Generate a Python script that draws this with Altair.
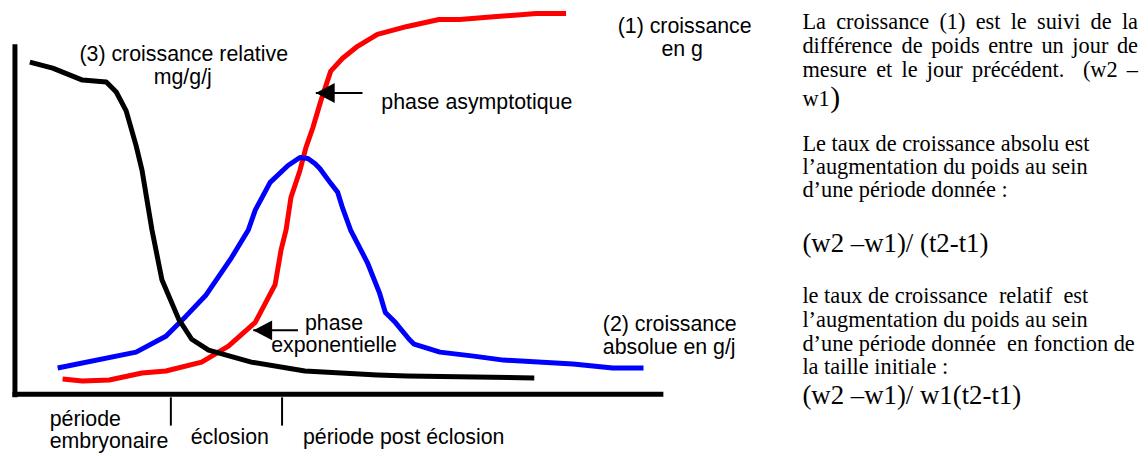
import altair as alt
import pandas as pd

# ---- coordinate system: t = time along the x axis, v = value (origin at axes corner)
# (1) croissance en g  (red)
red_t = [48, 68, 95, 128, 152, 188, 215, 242, 262, 268, 273, 278, 287, 293, 300, 308, 318, 330, 345, 365, 395, 427, 448, 485, 525, 555]
red_v = [16, 14, 15, 22, 24, 33, 49, 73, 111, 146, 166, 199, 226, 249, 269, 296, 326, 339, 351, 363, 371, 378, 378, 381, 384, 384]
# (2) croissance absolue en g/j  (blue)
blue_t = [43, 122, 152, 172, 192, 218, 235, 242, 257, 275, 287, 295, 302, 307, 318, 325, 330, 338, 355, 367, 373, 383, 397, 402, 428, 462, 492, 562, 602, 633]
blue_v = [27, 43, 59, 79, 100, 138, 166, 186, 214, 231, 239, 238, 233, 228, 213, 204, 188, 166, 133, 103, 83, 73, 56, 51, 43, 39, 35, 31, 27, 27]
# (3) croissance relative mg/g/j  (black)
black_t = [15, 38, 68, 92, 102, 112, 122, 128, 133, 138, 148, 165, 178, 195, 238, 292, 365, 395, 523]
black_v = [335, 329, 317, 315, 305, 286, 251, 226, 196, 166, 116, 76, 56, 45, 33, 24, 20, 19, 17]

series_names = ["(1)", "(2)", "(3)"]
series_colors = ["#ff0000", "#0000ff", "#000000"]

# axes of the sketch
axis_t = [0, -2.5]
axis_v = [-2.5, 0.5]
axis_t2 = [0, 653]
axis_v2 = [353, 0.5]

# period separators below the time axis
sep_t = [157, 269]
sep_v_top = -2.5
sep_v_bottom = -31

# arrows (tip position, tail end)
arrow_tip_t = [303, 240]
arrow_tip_v = [304, 65]
arrow_tail_t = [350, 285]

# sans-serif labels in the drawing
lab_text = ["(1) croissance", "en g", "phase asymptotique", "phase", "exponentielle",
            "(2) croissance", "absolue en g/j", "période", "embryonaire", "éclosion",
            "période post éclosion"]
lab_t = [607, 651, 369, 292, 258, 592, 592, 35, 35, 177, 290]
lab_v = [364, 341, 288, 65, 43, 64, 41, -31, -54, -49, -49]
title3_text = ["(3) croissance relative", "mg/g/j"]
title3_t = [170, 169]
title3_v = [336, 313]

# right-hand explanatory text (Times-like)
just_lines = ["La croissance (1) est le suivi de la",
              "différence de poids entre un jour de",
              "mesure et le jour précédent.  (w2 –"]
just_v = [368, 344, 320]
plain_lines = ["w1", "Le taux de croissance absolu est", "l’augmentation du poids au sein",
               "d’une période donnée :", "le taux de croissance  relatif  est",
               "l’augmentation du poids au sein", "d’une période donnée  en fonction de",
               "la taille initiale :"]
plain_v = [291, 246, 222, 199, 92, 68, 44, 21]
big_lines = ["(w2 –w1)/ (t2-t1)", "(w2 –w1)/ w1(t2-t1)"]
big_v = [144, -9]
paren_text = [")"]
paren_t = [821]
paren_v = [290]

TEXT_LEFT = 793
TEXT_RIGHT = 1131
SERIF = "Liberation Serif"
SANS = "Liberation Sans"
SERIF_SIZE = 22.5
SANS_SIZE = 21.5

# Times New Roman advance widths (per 1000 em), for justification
TW = {' ': 250, '(': 333, ')': 333, '-': 333, '.': 250, ':': 278, '/': 278, '–': 500, '’': 333,
      'a': 444, 'b': 500, 'c': 444, 'd': 500, 'e': 444, 'f': 333, 'g': 500, 'h': 500, 'i': 278,
      'j': 278, 'k': 500, 'l': 278, 'm': 778, 'n': 500, 'o': 500, 'p': 500, 'q': 500, 'r': 333,
      's': 389, 't': 278, 'u': 500, 'v': 500, 'w': 722, 'x': 500, 'y': 500, 'z': 444, 'é': 444,
      'L': 611}


def tw(s, size):
    return sum(TW.get(ch, 500) for ch in s) * size / 1000.0


def keep_spaces(s):
    # SVG collapses runs of spaces; keep the doubled spaces of the original
    return s.replace("  ", " \u00a0")


rows = []
for line, v in zip(just_lines, just_v):
    words = line.split(' ')
    widths = [tw(w, SERIF_SIZE) for w in words]
    gap = (TEXT_RIGHT - TEXT_LEFT - sum(widths)) / (len(words) - 1)
    x = TEXT_LEFT
    for w, wd in zip(words, widths):
        if w:
            rows.append({"t": x, "v": v, "label": w})
        x += wd + gap
for line, v in zip(plain_lines, plain_v):
    rows.append({"t": TEXT_LEFT, "v": v, "label": keep_spaces(line)})
serif_df = pd.DataFrame(rows)
big_df = pd.DataFrame({"t": [TEXT_LEFT] * len(big_lines), "v": big_v, "label": big_lines})
paren_df = pd.DataFrame({"t": paren_t, "v": paren_v, "label": paren_text})

xs = alt.Scale(domain=[-7, 1133], nice=False, zero=False)
ys = alt.Scale(domain=[-60, 388], nice=False, zero=False)
X = alt.X("t:Q", scale=xs, axis=None)
Y = alt.Y("v:Q", scale=ys, axis=None)

layers = []

# axes
axes_df = pd.DataFrame({"t": axis_t, "v": axis_v, "t2": axis_t2, "v2": axis_v2})
layers.append(alt.Chart(axes_df).mark_rule(color="black", strokeWidth=5, strokeCap="butt").encode(
    x=X, y=Y, x2="t2:Q", y2="v2:Q"))

# separators
sep_df = pd.DataFrame({"t": sep_t, "v": [sep_v_top] * 2, "v2": [sep_v_bottom] * 2})
layers.append(alt.Chart(sep_df).mark_rule(color="black", strokeWidth=2).encode(
    x=X, y=Y, y2="v2:Q"))

# curves
for name, color, ts, vs in zip(series_names, series_colors,
                               [red_t, blue_t, black_t], [red_v, blue_v, black_v]):
    df = pd.DataFrame({"t": ts, "v": vs, "i": list(range(len(ts)))})
    layers.append(alt.Chart(df).mark_line(color=color, strokeWidth=5, strokeCap="butt",
                                          strokeJoin="round").encode(x=X, y=Y, order="i:Q"))

# arrows
arr_df = pd.DataFrame({"t": arrow_tip_t, "v": arrow_tip_v, "t2": arrow_tail_t})
layers.append(alt.Chart(arr_df).mark_rule(color="black", strokeWidth=2).encode(
    x=X, y=Y, x2="t2:Q"))
layers.append(alt.Chart(arr_df).mark_point(shape="M0,0L1.9,-1L1.9,1Z", size=400, filled=True,
                                           color="black", opacity=1, strokeWidth=0).encode(x=X, y=Y))

# labels
lab_df = pd.DataFrame({"t": lab_t, "v": lab_v, "label": lab_text})
layers.append(alt.Chart(lab_df).mark_text(align="left", baseline="alphabetic", font=SANS,
                                          fontSize=SANS_SIZE, color="black").encode(
    x=X, y=Y, text="label:N"))
t3_df = pd.DataFrame({"t": title3_t, "v": title3_v, "label": title3_text})
layers.append(alt.Chart(t3_df).mark_text(align="center", baseline="alphabetic", font=SANS,
                                         fontSize=SANS_SIZE, color="black").encode(
    x=X, y=Y, text="label:N"))

# right text
layers.append(alt.Chart(serif_df).mark_text(align="left", baseline="alphabetic", font=SERIF,
                                            fontSize=SERIF_SIZE, color="black").encode(
    x=X, y=Y, text="label:N"))
layers.append(alt.Chart(big_df).mark_text(align="left", baseline="alphabetic", font=SERIF,
                                          fontSize=27, color="black").encode(
    x=X, y=Y, text="label:N"))
layers.append(alt.Chart(paren_df).mark_text(align="left", baseline="alphabetic", font=SERIF,
                                            fontSize=30, color="black").encode(
    x=X, y=Y, text="label:N"))

chart = alt.layer(*layers).properties(
    width=1140, height=448, padding=0,
    autosize=alt.AutoSizeParams(type="none"),
).configure_view(stroke=None)

chart.save("out.html", embed_options={"renderer": "svg", "actions": False})
